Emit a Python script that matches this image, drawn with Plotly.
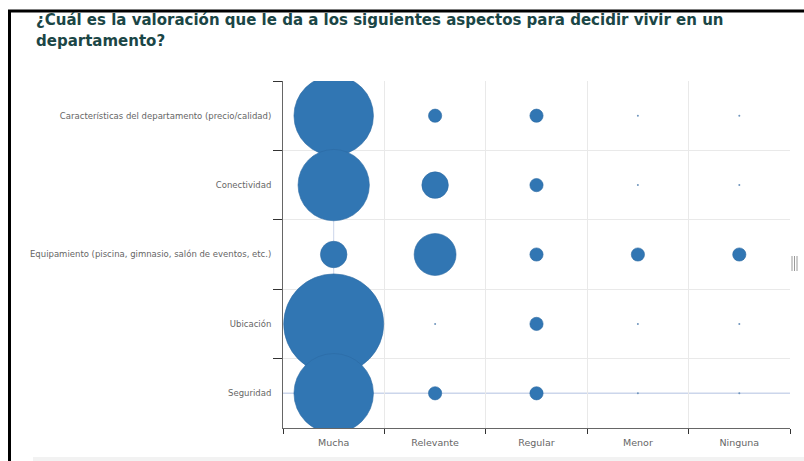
import plotly.graph_objects as go

# Survey: how much each aspect weighs when choosing to live in an apartment
aspects = [
    "Características del departamento (precio/calidad)",
    "Conectividad",
    "Equipamiento (piscina, gimnasio, salón de eventos, etc.)",
    "Ubicación",
    "Seguridad",
]
levels = ["Mucha", "Relevante", "Regular", "Menor", "Ninguna"]

# Respondent counts per aspect (rows) and rating level (columns)
mucha = [36, 29, 4, 57, 36]
relevante = [1, 4, 10, 0, 1]
regular = [1, 1, 1, 1, 1]
menor = [0, 0, 1, 0, 0]
ninguna = [0, 0, 1, 0, 0]

title_lines = ["¿Cuál es la valoración que le da a los siguientes aspectos para decidir vivir en un",
               "departamento?"]

W, H = 804, 461
ML, MR, MT, MB = 283, 14, 81, 33
BLUE = "#3176b3"
FONT = "DejaVu Sans"

columns = [mucha, relevante, regular, menor, ninguna]
xs, ys, zs, zx, zy = [], [], [], [], []
for lvl, col in zip(levels, columns):
    for asp, v in zip(aspects, col):
        if v > 0:
            xs.append(lvl)
            ys.append(asp)
            zs.append(v)
        else:
            zx.append(lvl)
            zy.append(asp)

max_d = 100
sizeref = 2.0 * max(zs) / (max_d ** 2)

fig = go.Figure()
fig.add_trace(go.Scatter(
    x=xs, y=ys, mode="markers",
    marker=dict(size=zs, sizemode="area", sizeref=sizeref, color=BLUE,
                line=dict(width=0.6, color="#2b6aa2"), opacity=1),
    hoverinfo="x+y+text", text=[str(v) for v in zs], showlegend=False,
))
# zero answers are shown as tiny dots
fig.add_trace(go.Scatter(
    x=zx, y=zy, mode="markers",
    marker=dict(size=2, color="#6f95bd"),
    hoverinfo="x+y", showlegend=False,
))


def px(x):
    return (x - ML) / (W - ML - MR)


def py(y):
    return (H - MB - y) / (H - MT - MB)


shapes = [
    # crosshair through the highlighted cell
    dict(type="line", xref="x", yref="paper", x0="Mucha", x1="Mucha", y0=0, y1=1,
         line=dict(color="#ccd6eb", width=1), layer="below"),
    dict(type="line", xref="paper", yref="y", x0=0, x1=1, y0="Seguridad", y1="Seguridad",
         line=dict(color="#ccd6eb", width=1.5), layer="below"),
    # page frame
    dict(type="line", xref="paper", yref="paper", x0=px(8), x1=px(W + 2), y0=py(11), y1=py(11),
         line=dict(color="#000000", width=3)),
    dict(type="line", xref="paper", yref="paper", x0=px(9.5), x1=px(9.5), y0=py(10), y1=py(H + 2),
         line=dict(color="#000000", width=3)),
    dict(type="rect", xref="paper", yref="paper", x0=px(33), x1=px(W + 2), y0=py(457), y1=py(H + 2),
         fillcolor="#f2f2f2", line=dict(width=0)),
]
for hx in (792, 794.5, 797):
    shapes.append(dict(type="line", xref="paper", yref="paper", x0=px(hx), x1=px(hx),
                       y0=py(256), y1=py(271), line=dict(color="#9a9a9a", width=1)))

annotations = []
for i, line in enumerate(title_lines):
    annotations.append(dict(text="<b>" + line + "</b>", xref="paper", yref="paper",
                            x=px(34), y=py(20 + 21 * i),
                            xanchor="left", yanchor="middle", showarrow=False,
                            font=dict(family=FONT, size=15, color="#1b4646")))

fig.update_layout(
    width=W, height=H,
    margin=dict(l=ML, r=MR, t=MT, b=MB, pad=0),
    paper_bgcolor="white", plot_bgcolor="white",
    font=dict(family=FONT, color="#666666"),
    xaxis=dict(type="category", categoryorder="array", categoryarray=levels,
               range=[-0.5, len(levels) - 0.5],
               tickson="boundaries", ticks="outside", ticklen=5, tickcolor="#333333",
               ticklabelstandoff=6,
               showline=True, linecolor="#666666", linewidth=1,
               showgrid=True, gridcolor="#e9e9e9", gridwidth=1, zeroline=False,
               tickfont=dict(family=FONT, size=9.5, color="#666666")),
    yaxis=dict(type="category", categoryorder="array", categoryarray=aspects,
               range=[len(aspects) - 0.5, -0.5],
               tickson="boundaries", ticks="outside", ticklen=9, tickcolor="#333333",
               ticklabelstandoff=9,
               showline=True, linecolor="#666666", linewidth=1,
               showgrid=True, gridcolor="#e9e9e9", gridwidth=1, zeroline=False,
               tickfont=dict(family=FONT, size=8.5, color="#666666")),
    shapes=shapes,
    annotations=annotations,
)

fig.write_html("out.html")
